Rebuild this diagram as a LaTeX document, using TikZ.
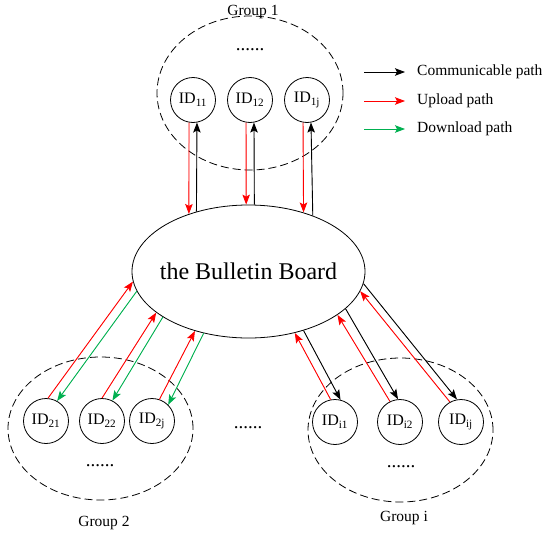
\documentclass[tikz,border=0pt]{standalone}
\usepackage{fontspec}
\setmainfont{Liberation Serif}
\usetikzlibrary{shapes.geometric,arrows.meta}
\definecolor{upred}{RGB}{255,0,0}
\definecolor{downgreen}{RGB}{0,176,80}
\begin{document}
\begin{tikzpicture}[x=1pt,y=-1pt,
  txt/.style={font=\fontsize{15.5}{18}\selectfont, inner sep=0pt},
  idc/.style={circle, draw, line width=0.8pt, minimum size=45pt, inner sep=0pt,
              font=\fontsize{16}{18}\selectfont},
  grp/.style={ellipse, draw, line width=0.8pt, dash pattern=on 8pt off 4pt, inner sep=0pt},
  board/.style={ellipse, draw, line width=0.8pt, minimum width=233pt, minimum height=133pt,
                inner sep=0pt},
  boardtext/.style={font=\fontsize{24}{28}\selectfont, inner sep=0pt},
  dots/.style={font=\fontsize{19}{20}\selectfont, inner sep=0pt},
  tip/.style={-{Stealth[length=10pt,width=7.5pt,inset=2pt]}, line width=0.9pt},
  com/.style={tip, draw=black, fill=black},
  up/.style={tip, draw=upred, fill=upred},
  down/.style={tip, draw=downgreen, fill=downgreen}]
\useasboundingbox (0,0) rectangle (545,535);

% central board
\node[board, label={[boardtext]center:the Bulletin Board}] (bb) at (248.5,271.5) {};

% group outlines
\node[grp, minimum width=186pt, minimum height=154pt] (g1) at (250,93) {};
\node[grp, minimum width=185pt, minimum height=143pt] (g2) at (100.5,428.5) {};
\node[grp, minimum width=185pt, minimum height=144pt] (gi) at (400.5,430) {};

% group labels and ellipses of dots
\node[txt] (lg1) at (253,12) {Group 1};
\node[txt] (lg2) at (104,523) {Group 2};
\node[txt] (lgi) at (404,518) {Group i};
\node[dots] (d1) at (250,50) {......};
\node[dots] (d2) at (100,466) {......};
\node[dots] (di) at (401,467) {......};
\node[dots] (dm) at (248,428) {......};

% members of group 1
\node[idc] (c11) at (193,100) {ID\textsubscript{11}};
\node[idc] (c12) at (250,100) {ID\textsubscript{12}};
\node[idc] (c1j) at (307,100) {ID\textsubscript{1j}};

% members of group 2
\node[idc] (c21) at (46,421) {ID\textsubscript{21}};
\node[idc] (c22) at (102,421) {ID\textsubscript{22}};
\node[idc] (c2j) at (152,421) {ID\textsubscript{2j}};

% members of group i
\node[idc] (ci1) at (335,422) {ID\textsubscript{i1}};
\node[idc] (ci2) at (400,422) {ID\textsubscript{i2}};
\node[idc] (cij) at (461,422) {ID\textsubscript{ij}};

% group 1: upload down to the board, communicable path back up
\draw[up]  (c11.260) -- (bb.136);
\draw[com] (bb.131)  -- (c11.280);
\draw[up]  (c12.260) -- (bb.92);
\draw[com] (bb.85)   -- (c12.280);
\draw[up]  (c1j.260) -- (bb.47);
\draw[com] (bb.41)   -- (c1j.280);

% group 2: upload and download paths
\draw[up]   (c21.85)  -- (bb.185);
\draw[down] (bb.190)  -- (c21.61);
\draw[up]   (c22.90)  -- (bb.204);
\draw[down] (bb.208)  -- (c22.63);
\draw[up]   (c2j.71)  -- (bb.228);
\draw[down] (bb.234)  -- (c2j.45);

% group i: upload and communicable paths
\draw[up]  (ci1.101) -- (bb.307);
\draw[com] (bb.313)  -- (ci1.76);
\draw[up]  (ci2.116) -- (bb.334);
\draw[com] (bb.339)  -- (ci2.95);
\draw[up]  (cij.119) -- (bb.350);
\draw[com] (bb.354)  -- (cij.100);

% legend
\coordinate (k1a) at (364,72);  \coordinate (k1b) at (405,72);
\coordinate (k2a) at (364,101); \coordinate (k2b) at (405,101);
\coordinate (k3a) at (364,129); \coordinate (k3b) at (405,129);
\draw[com]  (k1a) -- (k1b);
\draw[up]   (k2a) -- (k2b);
\draw[down] (k3a) -- (k3b);
\node[txt, anchor=west] (t1) at (417,72)  {Communicable path};
\node[txt, anchor=west] (t2) at (417,101) {Upload path};
\node[txt, anchor=west] (t3) at (417,129) {Download path};
\end{tikzpicture}
\end{document}
